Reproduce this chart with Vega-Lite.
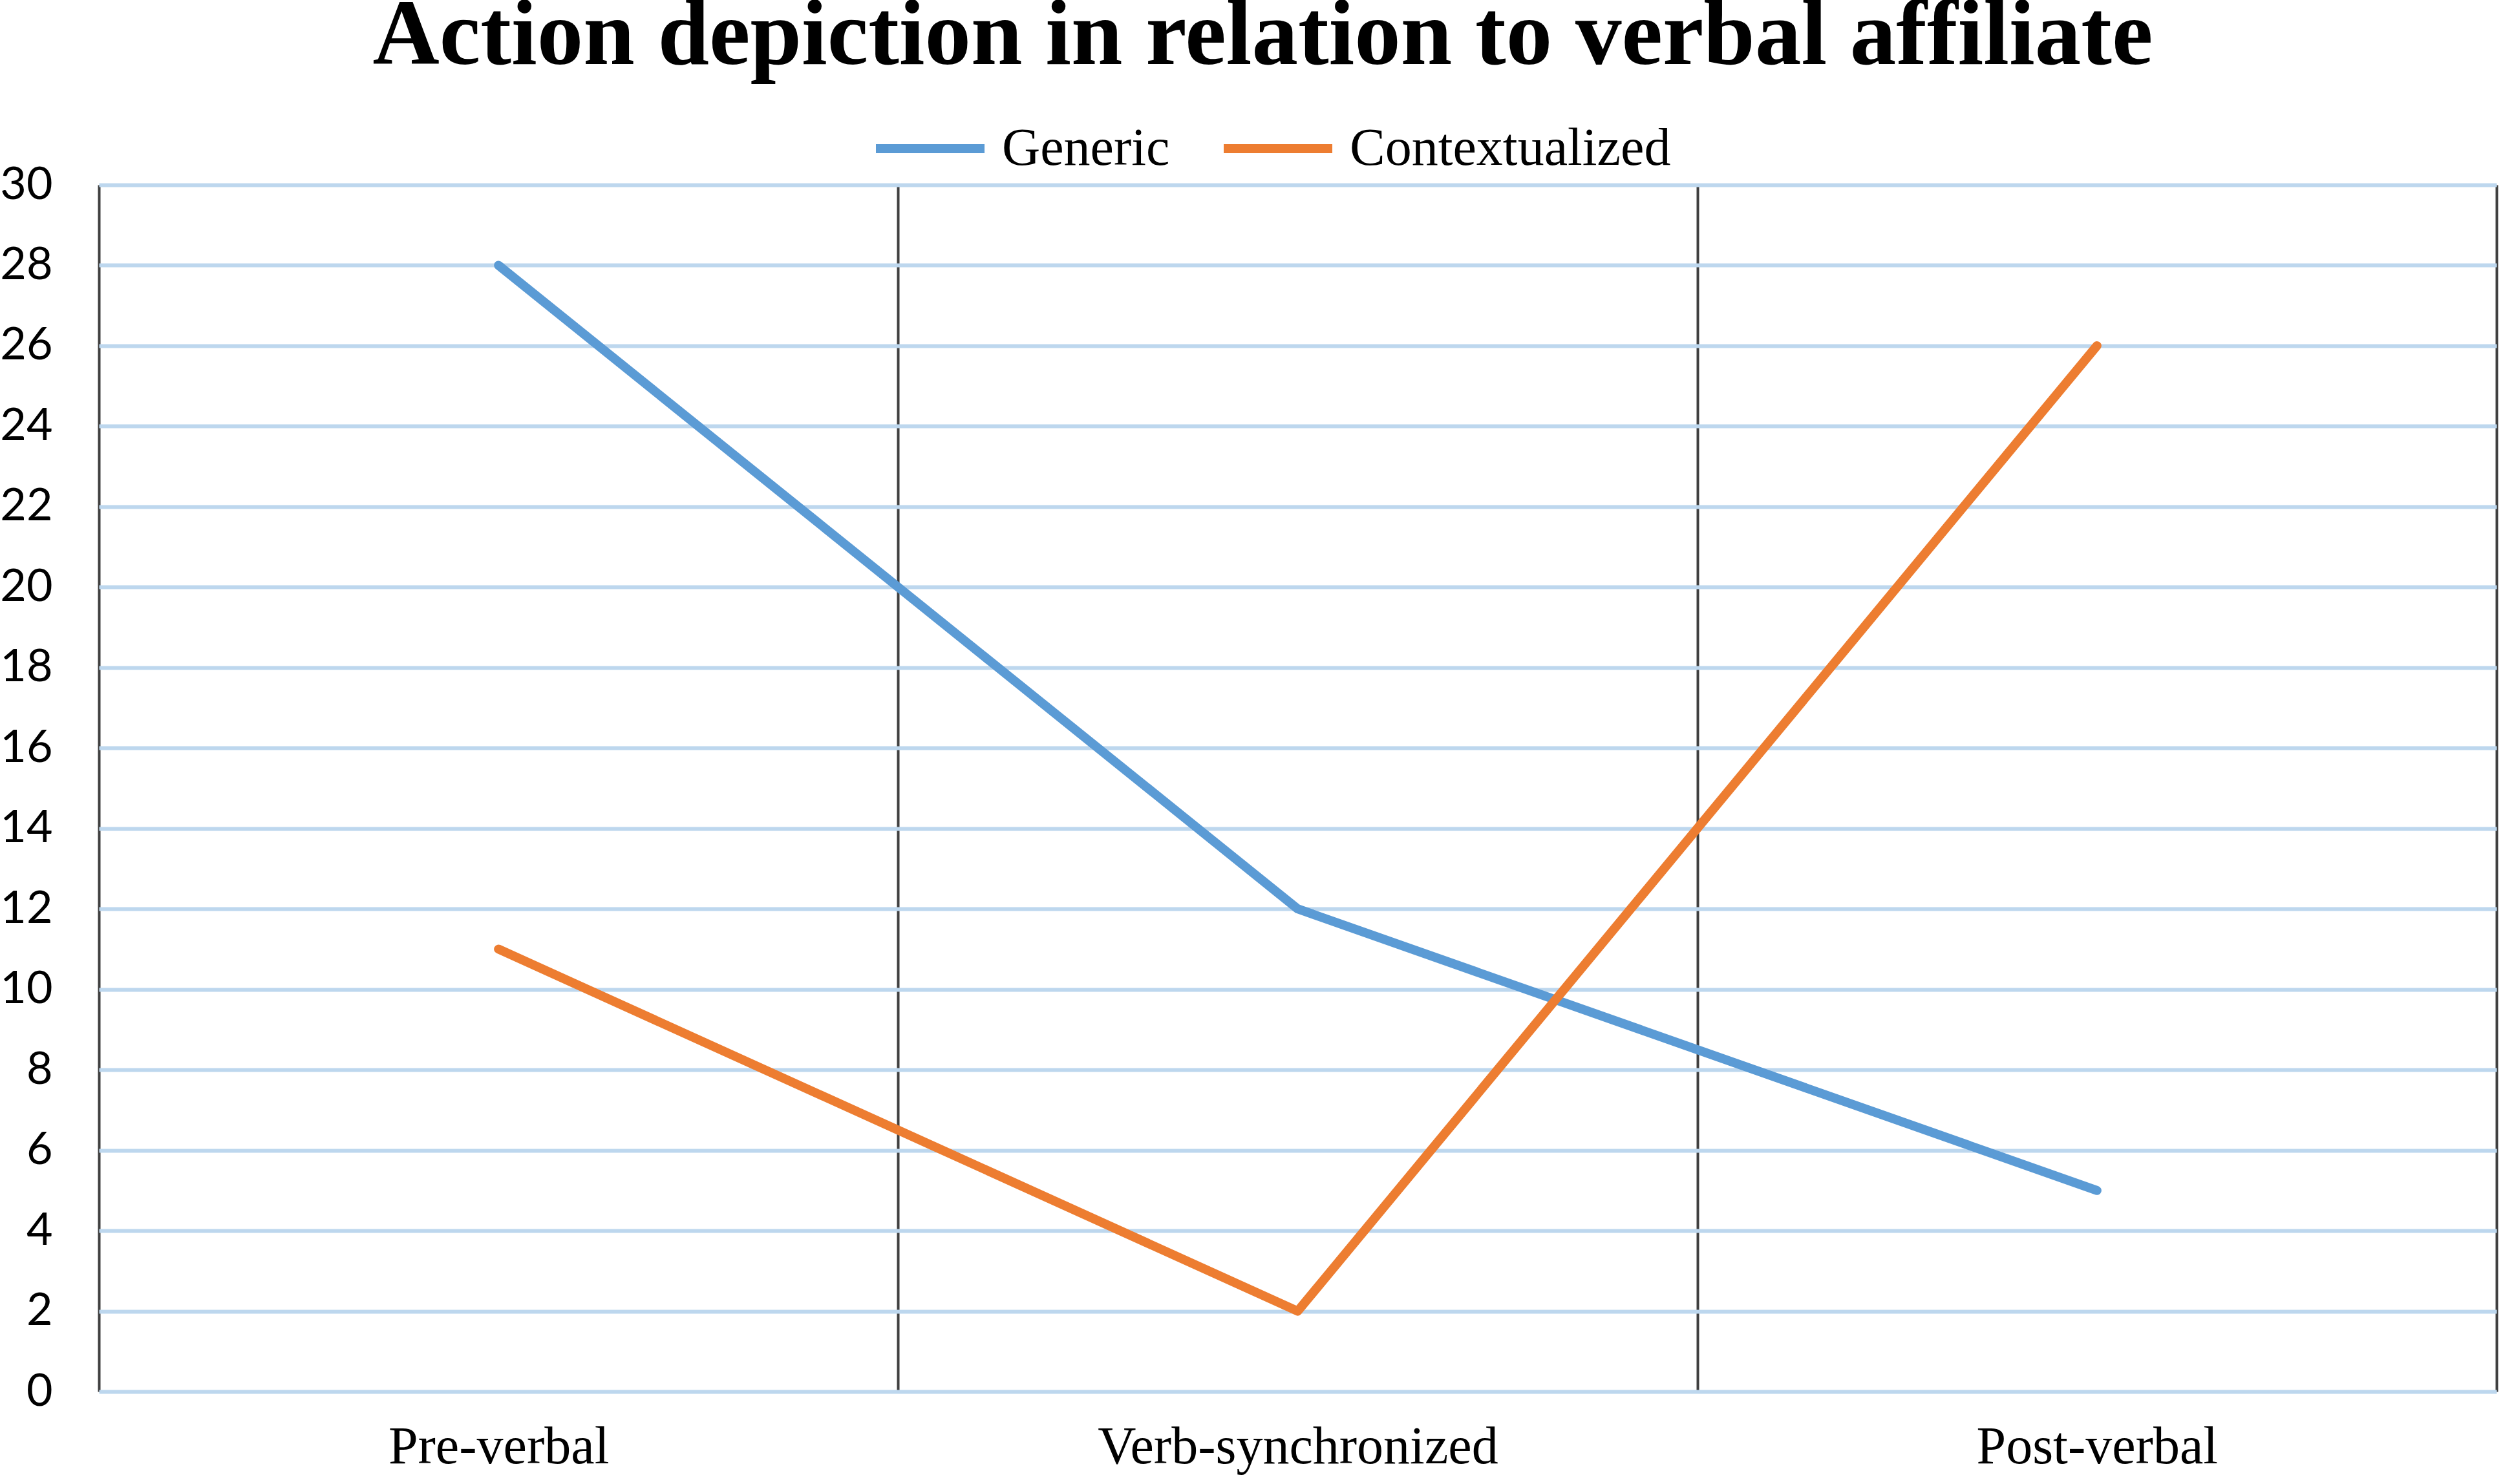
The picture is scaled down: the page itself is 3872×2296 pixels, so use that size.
{
  "$schema": "https://vega.github.io/schema/vega-lite/v6.json",
  "description": "Action depiction in relation to verbal affiliate",
  "autosize": {"type": "none"},
  "width": 3709,
  "height": 1867,
  "padding": {"left": 153, "top": 286, "right": 10, "bottom": 143},
  "background": "white",
  "title": {
    "text": "Action depiction in relation to verbal affiliate",
    "font": "Liberation Serif",
    "fontWeight": "bold",
    "fontSize": 143,
    "color": "black",
    "anchor": "middle",
    "frame": "group",
    "dx": -54,
    "offset": 10,
    "limit": 0
  },
  "data": {
    "values": [
      {"timing": "Pre-verbal", "type": "Generic", "count": 28},
      {"timing": "Verb-synchronized", "type": "Generic", "count": 12},
      {"timing": "Post-verbal", "type": "Generic", "count": 5},
      {"timing": "Pre-verbal", "type": "Contextualized", "count": 11},
      {"timing": "Verb-synchronized", "type": "Contextualized", "count": 2},
      {"timing": "Post-verbal", "type": "Contextualized", "count": 26}
    ]
  },
  "mark": {"type": "line", "strokeWidth": 14, "strokeCap": "round", "strokeJoin": "round"},
  "encoding": {
    "x": {
      "field": "timing",
      "type": "nominal",
      "sort": ["Pre-verbal", "Verb-synchronized", "Post-verbal"],
      "bandPosition": 0.5,
      "scale": {"type": "band", "paddingInner": 0, "paddingOuter": 0},
      "axis": {
        "title": null,
        "labelAngle": 0,
        "labelFont": "Liberation Serif",
        "labelFontSize": 82,
        "labelColor": "black",
        "labelPadding": 45,
        "labelLimit": 0,
        "domain": false,
        "ticks": false,
        "grid": true,
        "tickBand": "extent",
        "gridColor": "#404040",
        "gridWidth": 4
      }
    },
    "y": {
      "field": "count",
      "type": "quantitative",
      "scale": {"domain": [0, 30], "nice": false},
      "axis": {
        "title": null,
        "values": [0, 2, 4, 6, 8, 10, 12, 14, 16, 18, 20, 22, 24, 26, 28, 30],
        "labelFont": "Lato",
        "labelFontSize": 70,
        "labelColor": "black",
        "labelPadding": 72,
        "domain": false,
        "ticks": false,
        "grid": true,
        "gridColor": "#BDD7EE",
        "gridWidth": 6
      }
    },
    "color": {
      "field": "type",
      "type": "nominal",
      "sort": ["Generic", "Contextualized"],
      "scale": {"domain": ["Generic", "Contextualized"], "range": ["#5B9BD5", "#ED7D31"]},
      "legend": {
        "title": null,
        "orient": "none",
        "direction": "horizontal",
        "legendX": 1195,
        "legendY": -147,
        "symbolType": "stroke",
        "symbolStrokeWidth": 14,
        "symbolSize": 28224,
        "labelFont": "Liberation Serif",
        "labelFontSize": 82,
        "labelColor": "black",
        "labelLimit": 0,
        "labelOffset": 20,
        "columnPadding": 55
      }
    }
  }
}
